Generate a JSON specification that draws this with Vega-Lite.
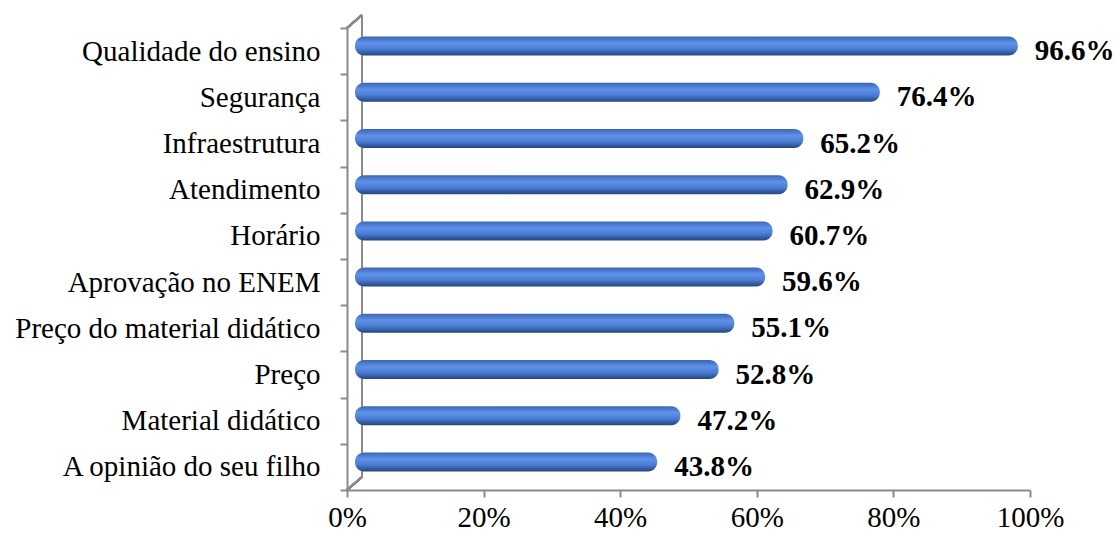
{
  "$schema": "https://vega.github.io/schema/vega-lite/v6.json",
  "width": 683,
  "height": 462,
  "autosize": {"type": "none"},
  "padding": {"left": 347, "top": 28, "right": 85, "bottom": 46},
  "background": "white",
  "config": {
    "view": {"stroke": null},
    "font": "Liberation Serif"
  },
  "data": {
    "values": [
      {"fator": "Qualidade do ensino", "pct": 0.966},
      {"fator": "Segurança", "pct": 0.764},
      {"fator": "Infraestrutura", "pct": 0.652},
      {"fator": "Atendimento", "pct": 0.629},
      {"fator": "Horário", "pct": 0.607},
      {"fator": "Aprovação no ENEM", "pct": 0.596},
      {"fator": "Preço do material didático", "pct": 0.551},
      {"fator": "Preço", "pct": 0.528},
      {"fator": "Material didático", "pct": 0.472},
      {"fator": "A opinião do seu filho", "pct": 0.438}
    ]
  },
  "encoding": {
    "y": {
      "field": "fator",
      "type": "nominal",
      "sort": null,
      "scale": {
        "domain": [
          "Qualidade do ensino", "Segurança", "Infraestrutura", "Atendimento", "Horário",
          "Aprovação no ENEM", "Preço do material didático", "Preço", "Material didático",
          "A opinião do seu filho"
        ],
        "paddingInner": 0,
        "paddingOuter": 0
      },
      "axis": {
        "title": null,
        "tickBand": "extent",
        "tickSize": 7,
        "tickColor": "#8a8a8a",
        "tickWidth": 2,
        "domainColor": "#8a8a8a",
        "domainWidth": 2,
        "labelFont": "Liberation Serif",
        "labelFontSize": 29,
        "labelColor": "#000000",
        "labelPadding": 20,
        "labelLimit": 400
      }
    }
  },
  "layer": [
    {
      "mark": {"type": "rule", "stroke": "#8a8a8a", "strokeWidth": 2, "xOffset": 15, "yOffset": -13, "y2Offset": -13},
      "encoding": {
        "x": {"datum": 0, "type": "quantitative"},
        "y": {"datum": "Qualidade do ensino", "bandPosition": 0},
        "y2": {"datum": "A opinião do seu filho", "bandPosition": 1}
      }
    },
    {
      "mark": {"type": "rule", "stroke": "#8a8a8a", "strokeWidth": 2, "x2Offset": 15, "y2Offset": -13},
      "encoding": {
        "x": {"datum": 0, "type": "quantitative"},
        "x2": {"datum": 0},
        "y": {"datum": "Qualidade do ensino", "bandPosition": 0},
        "y2": {"datum": "Qualidade do ensino", "bandPosition": 0}
      }
    },
    {
      "mark": {"type": "rule", "stroke": "#8a8a8a", "strokeWidth": 2, "x2Offset": 15, "y2Offset": -13},
      "encoding": {
        "x": {"datum": 0, "type": "quantitative"},
        "x2": {"datum": 0},
        "y": {"datum": "A opinião do seu filho", "bandPosition": 1},
        "y2": {"datum": "A opinião do seu filho", "bandPosition": 1}
      }
    },
    {
      "mark": {
        "type": "bar",
        "size": 19,
        "cornerRadius": 9,
        "xOffset": 11,
        "x2Offset": 8,
        "yOffset": -5,
        "fill": {
          "x1": 0, "y1": 0, "x2": 0, "y2": 1,
          "gradient": "linear",
          "stops": [
            {"offset": 0, "color": "#3c65b5"},
            {"offset": 0.35, "color": "#5e92e8"},
            {"offset": 0.65, "color": "#4b7dd4"},
            {"offset": 1, "color": "#24447f"}
          ]
        }
      },
      "encoding": {
        "x": {
          "field": "pct",
          "type": "quantitative",
          "scale": {"domain": [0, 1], "nice": false},
          "axis": {
            "title": null,
            "values": [0, 0.2, 0.4, 0.6, 0.8, 1],
            "format": "0%",
            "grid": false,
            "tickSize": 7,
            "tickColor": "#8a8a8a",
            "tickWidth": 2,
            "domainColor": "#8a8a8a",
            "domainWidth": 2,
            "labelFont": "Liberation Serif",
            "labelFontSize": 29,
            "labelColor": "#000000",
            "labelPadding": 6,
            "labelFlush": false
          }
        },
        "x2": {"datum": 0}
      }
    },
    {
      "mark": {
        "type": "text",
        "align": "left",
        "baseline": "middle",
        "dx": 28,
        "font": "Liberation Serif",
        "fontSize": 29,
        "fontWeight": "bold",
        "color": "#000000"
      },
      "encoding": {
        "x": {"field": "pct", "type": "quantitative"},
        "text": {"field": "pct", "type": "quantitative", "format": ".1%"}
      }
    }
  ]
}
